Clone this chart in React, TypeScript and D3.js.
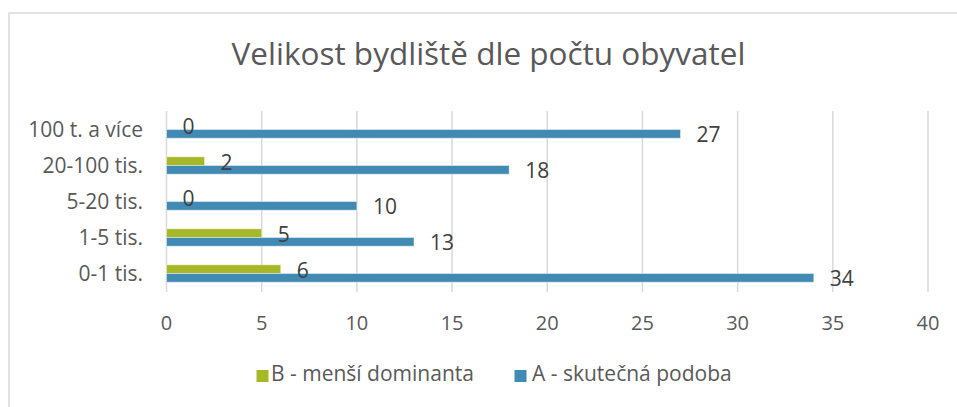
import React from "react";
import * as d3 from "d3";

const categories = ["100 t. a více", "20-100 tis.", "5-20 tis.", "1-5 tis.", "0-1 tis."];
const seriesB = [0, 2, 0, 5, 6];
const seriesA = [27, 18, 10, 13, 34];
const seriesNames = ["B - menší dominanta", "A - skutečná podoba"];
const xTicks = [0, 5, 10, 15, 20, 25, 30, 35, 40];
const title = "Velikost bydliště dle počtu obyvatel";

const W = 957;
const H = 407;
const FONT = "'Open Sans', 'Noto Sans', sans-serif";
const BLUE = "#418AB3";
const GREEN = "#A6B727";

export default function App() {
  const x = d3.scaleLinear().domain([0, 40]).range([166.5, 928]);
  const y = d3.scaleBand().domain(categories).range([111.5, 291.5]).paddingInner(0.516).paddingOuter(0.258);
  const barH = y.bandwidth() / 2;
  const series = [
    { name: seriesNames[0], values: seriesB, color: GREEN, off: 0 },
    { name: seriesNames[1], values: seriesA, color: BLUE, off: 1 },
  ];
  return (
    <svg width={W} height={H} style={{ position: "absolute", left: 0, top: 0, background: "#fff" }} fontFamily={FONT}>
      <rect x={0} y={0} width={W} height={H} fill="#fff" />
      <rect x={9} y={13} width={W + 20} height={H + 20} fill="none" stroke="#d9d9d9" strokeWidth={1.5} />
      <text x={488.5} y={65} textAnchor="middle" fontSize={31.5} fill="#595959">{title}</text>
      {xTicks.map((t) => (
        <g key={t}>
          <line x1={x(t)} x2={x(t)} y1={111} y2={292} stroke="#d9d9d9" strokeWidth={1.5} />
          <text x={x(t)} y={330} textAnchor="middle" fontSize={20} fill="#595959">{t}</text>
        </g>
      ))}
      {categories.map((c) => (
        <text key={c} x={143} y={(y(c) as number) + y.bandwidth() / 2 + 7.5} textAnchor="end" fontSize={21} fill="#595959">{c}</text>
      ))}
      {series.map((s) =>
        categories.map((c, i) => {
          const y0 = (y(c) as number) + s.off * barH;
          return (
            <rect key={"b" + s.name + c} x={x(0)} y={y0} width={x(s.values[i]) - x(0)} height={barH} fill={s.color}
              stroke="#ffffff" strokeOpacity={0.45} strokeWidth={1} />
          );
        })
      )}
      {series.map((s) =>
        categories.map((c, i) => {
          const y0 = (y(c) as number) + s.off * barH;
          return (
            <text key={"l" + s.name + c} x={x(s.values[i]) + 16} y={y0 + barH / 2 + 8.5} fontSize={21} fill="#404040">{s.values[i]}</text>
          );
        })
      )}
      <rect x={256.5} y={370} width={12} height={12} fill={GREEN} />
      <text x={271} y={381} fontSize={21} fill="#595959">{seriesNames[0]}</text>
      <rect x={514.5} y={370} width={12} height={12} fill={BLUE} />
      <text x={532} y={381} fontSize={21} fill="#595959">{seriesNames[1]}</text>
    </svg>
  );
}
